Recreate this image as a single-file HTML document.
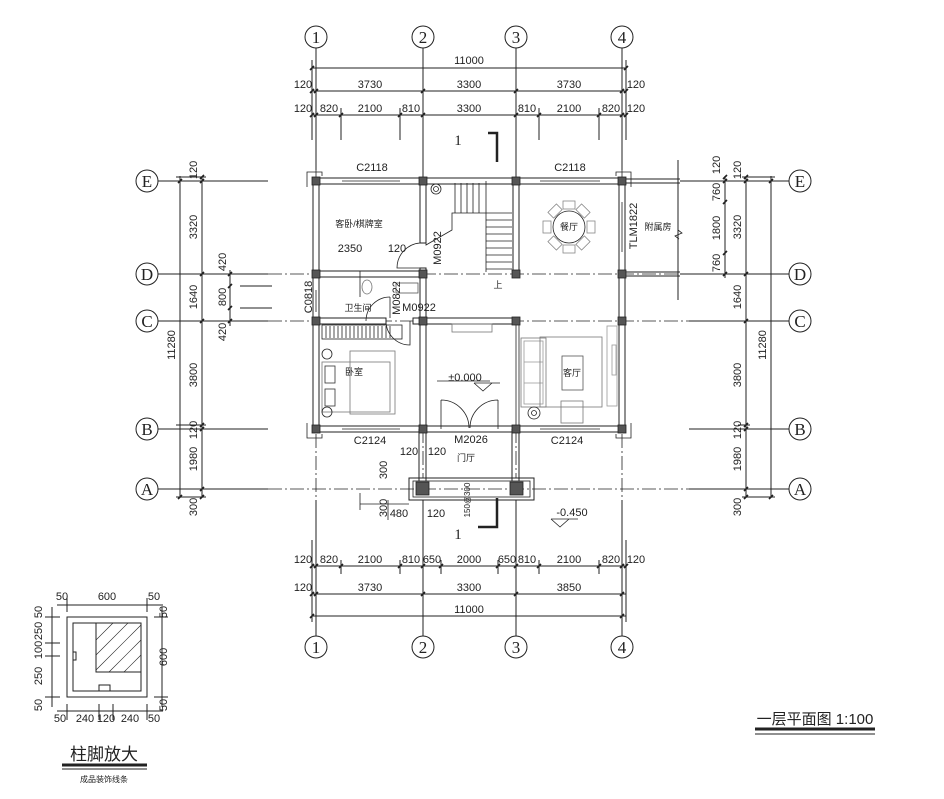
<!DOCTYPE html>
<html><head><meta charset="utf-8"><style>
html,body{margin:0;padding:0;background:#fff}
svg{display:block}
text{font-family:"Liberation Sans","Noto Sans CJK SC",sans-serif;fill:#222}
.t{font-size:11px;text-anchor:middle}
.c{font-family:"Liberation Sans","Noto Sans CJK SC",sans-serif;font-size:9px;text-anchor:middle}
.ax{font-family:"Liberation Serif",serif;font-size:17px;text-anchor:middle}
</style></head><body>
<svg width="944" height="799" viewBox="0 0 944 799" xmlns="http://www.w3.org/2000/svg">
<g stroke="#222" stroke-width="1" fill="none">
<!-- axis circles -->
<circle cx="316" cy="37" r="11"/><circle cx="423" cy="37" r="11"/><circle cx="516" cy="37" r="11"/><circle cx="622" cy="37" r="11"/>
<circle cx="316" cy="647" r="11"/><circle cx="423" cy="647" r="11"/><circle cx="516" cy="647" r="11"/><circle cx="622" cy="647" r="11"/>
<circle cx="147" cy="181" r="11"/><circle cx="147" cy="274" r="11"/><circle cx="147" cy="321" r="11"/><circle cx="147" cy="429" r="11"/><circle cx="147" cy="489" r="11"/>
<circle cx="800" cy="181" r="11"/><circle cx="800" cy="274" r="11"/><circle cx="800" cy="321" r="11"/><circle cx="800" cy="429" r="11"/><circle cx="800" cy="489" r="11"/>
<!-- vertical grid lines -->
<path d="M316 48V170M423 48V181M516 48V181M622 48V170M316 500V636M423 500V636M516 500V636M622 500V636"/>
<path d="M316 170V500M423 429V478M516 429V478M622 170V500" stroke-dasharray="14 3 2 3" stroke-width="0.8"/>
<!-- horizontal grid lines -->
<path d="M158 181H268M158 274H268M158 321H268M158 429H268M158 489H268M680 181H789M680 274H789M689 321H789M689 429H789M689 489H789"/>
<path d="M268 274H680M268 321H689M268 489H689" stroke-dasharray="14 3 2 3" stroke-width="0.8"/>
<!-- top dims -->
<path d="M312 68H626M312 91H626M312 115H626M312 594H626M312 616H626M312 566H626"/>
<path d="M341 108V140M400 108V140M539 108V140M599 108V140M312 60V140M626 60V140"/>
<path d="M312 540V622M626 540V622M341 560V574M400 560V574M441 560V574M498 560V574M539 560V574M599 560V574"/>
<g stroke-width="1.6">
<path d="M310 70l4-4M624 70l4-4M310 93l4-4M314 93l4-4M421 93l4-4M514 93l4-4M620 93l4-4M624 93l4-4"/>
<path d="M310 117l4-4M314 117l4-4M339 117l4-4M398 117l4-4M421 117l4-4M514 117l4-4M537 117l4-4M597 117l4-4M620 117l4-4M624 117l4-4"/>
<path d="M310 568l4-4M314 568l4-4M339 568l4-4M398 568l4-4M421 568l4-4M439 568l4-4M496 568l4-4M514 568l4-4M537 568l4-4M597 568l4-4M620 568l4-4M624 568l4-4"/>
<path d="M310 596l4-4M314 596l4-4M421 596l4-4M514 596l4-4M620 596l4-4M310 618l4-4M620 618l4-4"/>
</g>
<!-- left dims -->
<path d="M180 176V498M202 176V498M230 270V326M176 177H206M176 497H206M240 286H272M240 308H272M176 425H206"/>
<path d="M746 176V498M771 176V498M725 176V278M742 177H775M742 497H775M738 425H750"/>
<g stroke-width="1.6">
<path d="M178 183l4-4M178 499l4-4M200 179l4-4M200 183l4-4M200 276l4-4M200 323l4-4M200 427l4-4M200 431l4-4M200 491l4-4M200 499l4-4M228 276l4-4M228 288l4-4M228 310l4-4M228 323l4-4"/>
<path d="M769 183l4-4M769 499l4-4M744 179l4-4M744 183l4-4M744 276l4-4M744 323l4-4M744 427l4-4M744 431l4-4M744 491l4-4M744 499l4-4M723 179l4-4M723 183l4-4M723 204l4-4M723 255l4-4M723 276l4-4"/>
</g>
<!-- annex -->
<path d="M622 179H680M622 183H680M622 272H680M622 276H680M678 160V300"/>
<path d="M678 230l4 3-7 3 4 3" stroke-width="0.8"/>
</g>
<!-- walls -->
<g fill="#fff" stroke="#222" stroke-width="1">
<rect x="313" y="178" width="312" height="6"/>
<rect x="313" y="426" width="312" height="6"/>
<rect x="313" y="178" width="6" height="254"/>
<rect x="619" y="178" width="6" height="254"/>
<rect x="420" y="181" width="6" height="62"/>
<rect x="420" y="268" width="6" height="161"/>
<rect x="513" y="181" width="6" height="93"/>
<rect x="316" y="271" width="107" height="6"/>
<rect x="316" y="318" width="70" height="6"/>
<rect x="413" y="318" width="106" height="6"/>
</g>
<g stroke="#222" fill="none" stroke-width="0.8">
<path d="M342 181H400M540 181H600M342 429H400M540 429H600M316 290V312M622 202V252"/>
<path d="M516 321V429M519 321V429" />
<path d="M441 429V400M498 429V400M441 400A28 28 0 0 1 469 428M498 400A28 28 0 0 0 470 428"/>
<path d="M420 243A25 25 0 0 0 397 268H420"/>
<path d="M386 321A24 24 0 0 0 410 345V321"/>
<path d="M390 297A24 24 0 0 0 366 321"/>
<path d="M360 297V271M390 297V318"/>
<!-- stair -->
<path d="M426 183V245L452 230V213H486V181M486 213H512M486 220H512M486 227H512M486 234H512M486 241H512M486 248H512M486 255H512M486 262H512M486 269H512M486 213V272"/>
<path d="M455 183V213M461 183V213M467 183V213M473 183V213M479 183V213"/>
<circle cx="436" cy="189" r="5"/><circle cx="436" cy="189" r="2.5"/>
<!-- wardrobe -->
<rect x="322" y="325" width="80" height="14"/>
<path d="M326 326v12M330 326v12M334 326v12M338 326v12M342 326v12M346 326v12M350 326v12M354 326v12M358 326v12M362 326v12M366 326v12M370 326v12M374 326v12M378 326v12M382 326v12M386 326v12M390 326v12"/>
<!-- bed -->
<rect x="350" y="351" width="45" height="63" stroke="#777"/>
<rect x="322" y="362" width="68" height="50" stroke="#777"/>
<rect x="325" y="366" width="10" height="17" stroke="#333"/>
<rect x="325" y="389" width="10" height="17" stroke="#333"/>
<circle cx="327" cy="354" r="5"/><circle cx="327" cy="412" r="5"/>
<!-- toilet -->
<ellipse cx="367" cy="287" rx="5" ry="7" stroke="#777"/>
<rect x="396" y="283" width="22" height="10" stroke="#555"/>
<!-- hall cabinet -->
<rect x="452" y="324" width="40" height="8" stroke="#777"/>
<path d="M474 383l9 8 9-8M474 383H500" />
<!-- living -->
<rect x="521" y="338" width="25" height="69" stroke="#777"/>
<rect x="524" y="341" width="19" height="63" stroke="#999"/>
<path d="M524 362H543M524 383H543" stroke="#999"/>
<rect x="540" y="337" width="62" height="70" stroke="#777"/>
<rect x="562" y="356" width="21" height="34" stroke="#555"/>
<rect x="561" y="401" width="22" height="22" stroke="#777"/>
<rect x="607" y="326" width="10" height="80" stroke="#999"/>
<rect x="612" y="345" width="4" height="30" stroke="#999"/>
<circle cx="534" cy="413" r="6"/><circle cx="534" cy="413" r="2.5"/>
<!-- dining -->
<circle cx="569" cy="227" r="16"/>
<g stroke="#888">
<rect x="563" y="201" width="12" height="8"/><rect x="563" y="245" width="12" height="8"/>
<rect x="543" y="221" width="8" height="12"/><rect x="587" y="221" width="8" height="12"/>
<rect x="549" y="207" width="12" height="8" transform="rotate(-45 555 211)"/>
<rect x="577" y="207" width="12" height="8" transform="rotate(45 583 211)"/>
<rect x="549" y="239" width="12" height="8" transform="rotate(45 555 243)"/>
<rect x="577" y="239" width="12" height="8" transform="rotate(-45 583 243)"/>
</g>
<!-- porch -->
<rect x="409" y="478" width="125" height="22" stroke-width="1"/>
<rect x="413" y="481" width="117" height="16"/>
<path d="M419 429V481M426 429V481M512 429V481M519 429V481" stroke-width="1"/>
<path d="M360 493V510M409 504H360M423 500V520M388 500V520"/>
<path d="M488 133H497V162M478 527H497V498" stroke-width="2.5"/>
<path d="M437 381H490M551 519l9 8 9-8M551 519H578"/>
</g>
<!-- columns -->
<g fill="#555" stroke="#222" stroke-width="0.8">
<rect x="312" y="177" width="8" height="8"/><rect x="419" y="177" width="8" height="8"/><rect x="512" y="177" width="8" height="8"/><rect x="618" y="177" width="8" height="8"/>
<rect x="312" y="270" width="8" height="8"/><rect x="419" y="270" width="8" height="8"/><rect x="512" y="270" width="8" height="8"/><rect x="618" y="270" width="8" height="8"/>
<rect x="312" y="317" width="8" height="8"/><rect x="419" y="317" width="8" height="8"/><rect x="512" y="317" width="8" height="8"/><rect x="618" y="317" width="8" height="8"/>
<rect x="312" y="425" width="8" height="8"/><rect x="419" y="425" width="8" height="8"/><rect x="512" y="425" width="8" height="8"/><rect x="618" y="425" width="8" height="8"/>
<rect x="416" y="482" width="13" height="13"/><rect x="510" y="482" width="13" height="13"/>
</g>
<g fill="none" stroke="#222" stroke-width="0.8">
<path d="M307 187V172H322V176M631 187V172H616V176M307 423V438H322V434M631 423V438H616V434"/>
</g>
<!-- axis labels -->
<text class="ax" x="316" y="43">1</text><text class="ax" x="423" y="43">2</text><text class="ax" x="516" y="43">3</text><text class="ax" x="622" y="43">4</text>
<text class="ax" x="316" y="653">1</text><text class="ax" x="423" y="653">2</text><text class="ax" x="516" y="653">3</text><text class="ax" x="622" y="653">4</text>
<text class="ax" x="147" y="187">E</text><text class="ax" x="147" y="280">D</text><text class="ax" x="147" y="327">C</text><text class="ax" x="147" y="435">B</text><text class="ax" x="147" y="495">A</text>
<text class="ax" x="800" y="187">E</text><text class="ax" x="800" y="280">D</text><text class="ax" x="800" y="327">C</text><text class="ax" x="800" y="435">B</text><text class="ax" x="800" y="495">A</text>
<!-- top dim text -->
<text class="t" x="469" y="64">11000</text>
<text class="t" x="303" y="88">120</text><text class="t" x="370" y="88">3730</text><text class="t" x="469" y="88">3300</text><text class="t" x="569" y="88">3730</text><text class="t" x="636" y="88">120</text>
<text class="t" x="303" y="112">120</text><text class="t" x="329" y="112">820</text><text class="t" x="370" y="112">2100</text><text class="t" x="411" y="112">810</text><text class="t" x="469" y="112">3300</text><text class="t" x="527" y="112">810</text><text class="t" x="569" y="112">2100</text><text class="t" x="611" y="112">820</text><text class="t" x="636" y="112">120</text>
<!-- bottom dim text -->
<text class="t" x="303" y="563">120</text><text class="t" x="329" y="563">820</text><text class="t" x="370" y="563">2100</text><text class="t" x="411" y="563">810</text><text class="t" x="432" y="563">650</text><text class="t" x="469" y="563">2000</text><text class="t" x="507" y="563">650</text><text class="t" x="527" y="563">810</text><text class="t" x="569" y="563">2100</text><text class="t" x="611" y="563">820</text><text class="t" x="636" y="563">120</text>
<text class="t" x="303" y="591">120</text><text class="t" x="370" y="591">3730</text><text class="t" x="469" y="591">3300</text><text class="t" x="569" y="591">3850</text>
<text class="t" x="469" y="613">11000</text>
<!-- left dim text -->
<g class="t">
<text transform="translate(197,170) rotate(-90)">120</text>
<text transform="translate(197,227) rotate(-90)">3320</text>
<text transform="translate(197,297) rotate(-90)">1640</text>
<text transform="translate(197,375) rotate(-90)">3800</text>
<text transform="translate(197,430) rotate(-90)">120</text>
<text transform="translate(197,459) rotate(-90)">1980</text>
<text transform="translate(197,507) rotate(-90)">300</text>
<text transform="translate(175,345) rotate(-90)">11280</text>
<text transform="translate(226,262) rotate(-90)">420</text>
<text transform="translate(226,297) rotate(-90)">800</text>
<text transform="translate(226,332) rotate(-90)">420</text>
<text transform="translate(741,170) rotate(-90)">120</text>
<text transform="translate(741,227) rotate(-90)">3320</text>
<text transform="translate(741,297) rotate(-90)">1640</text>
<text transform="translate(741,375) rotate(-90)">3800</text>
<text transform="translate(741,430) rotate(-90)">120</text>
<text transform="translate(741,459) rotate(-90)">1980</text>
<text transform="translate(741,507) rotate(-90)">300</text>
<text transform="translate(766,345) rotate(-90)">11280</text>
<text transform="translate(720,165) rotate(-90)">120</text>
<text transform="translate(720,192) rotate(-90)">760</text>
<text transform="translate(720,228) rotate(-90)">1800</text>
<text transform="translate(720,263) rotate(-90)">760</text>
<text transform="translate(312,297) rotate(-90)">C0818</text>
<text transform="translate(441,248) rotate(-90)">M0922</text>
<text transform="translate(400,298) rotate(-90)">M0822</text>
<text transform="translate(637,226) rotate(-90)">TLM1822</text>
<text transform="translate(387,470) rotate(-90)">300</text>
<text transform="translate(387,508) rotate(-90)">300</text>
</g>
<!-- plan labels -->
<text class="t" x="372" y="171">C2118</text><text class="t" x="570" y="171">C2118</text>
<text class="t" x="370" y="444">C2124</text><text class="t" x="567" y="444">C2124</text>
<text class="t" x="471" y="443">M2026</text>
<text class="t" x="350" y="252">2350</text><text class="t" x="397" y="252">120</text>
<text class="t" x="419" y="311">M0922</text>
<text class="t" x="409" y="455">120</text><text class="t" x="437" y="455">120</text>
<text class="t" x="399" y="517">480</text><text class="t" x="436" y="517">120</text>
<text class="t" x="465" y="381">±0.000</text>
<text class="t" x="572" y="516">-0.450</text>
<text class="ax" x="458" y="145" style="font-size:15px">1</text>
<text class="ax" x="458" y="539" style="font-size:15px">1</text>
<text class="c" x="498" y="288">上</text>
<text class="c" x="359" y="227">客卧/棋牌室</text>
<text class="c" x="358" y="311">卫生间</text>
<text class="c" x="354" y="375">卧室</text>
<text class="c" x="572" y="376">客厅</text>
<text class="c" x="569" y="230">餐厅</text>
<text class="c" x="466" y="461">门厅</text>
<text class="c" x="658" y="230">附属房</text>
<text class="c" transform="translate(470,500) rotate(-90)" style="font-size:8px">150@300</text>
<!-- detail inset -->
<g fill="none" stroke="#222" stroke-width="1">
<rect x="67" y="617" width="80" height="80"/>
<rect x="73" y="623" width="68" height="68"/>
<rect x="96" y="623" width="45" height="49"/>
<path d="M96 640l17-17M96 655l32-32M96 670l45-45M109 672l32-32M124 672l17-17" stroke-width="0.6"/>
<path d="M73 652h3v8h-3M99 691v-6h11v6"/>
<path d="M57 605H163M67 598V612M147 598V612M57 711H163M67 704V720M99 704V720M113 704V720M147 704V720M52 607V707M162 607V707M45 617H60M45 643H60M45 656H60M45 697H60M154 617H168M154 697H168"/>
<path d="M755 729H875" stroke-width="3"/><path d="M755 734H875"/>
<path d="M62 765H147" stroke-width="3"/><path d="M62 769H147"/>
</g>
<text class="t" x="62" y="600">50</text><text class="t" x="107" y="600">600</text><text class="t" x="154" y="600">50</text>
<text class="t" x="60" y="722">50</text><text class="t" x="85" y="722">240</text><text class="t" x="106" y="722">120</text><text class="t" x="130" y="722">240</text><text class="t" x="154" y="722">50</text>
<g class="t">
<text transform="translate(42,612) rotate(-90)">50</text>
<text transform="translate(42,631) rotate(-90)">250</text>
<text transform="translate(42,650) rotate(-90)">100</text>
<text transform="translate(42,676) rotate(-90)">250</text>
<text transform="translate(42,705) rotate(-90)">50</text>
<text transform="translate(167,612) rotate(-90)">50</text>
<text transform="translate(167,657) rotate(-90)">600</text>
<text transform="translate(167,705) rotate(-90)">50</text>
</g>
<text x="104" y="760" style="font-size:17px;text-anchor:middle;font-family:'Noto Sans CJK SC',sans-serif">柱脚放大</text>
<text x="104" y="782" style="font-size:8px;text-anchor:middle;font-family:'Noto Sans CJK SC',sans-serif">成品装饰线条</text>
<text x="815" y="724" style="font-size:15px;text-anchor:middle;font-family:'Liberation Sans','Noto Sans CJK SC',sans-serif">一层平面图 1:100</text>
</svg>
</body></html>
